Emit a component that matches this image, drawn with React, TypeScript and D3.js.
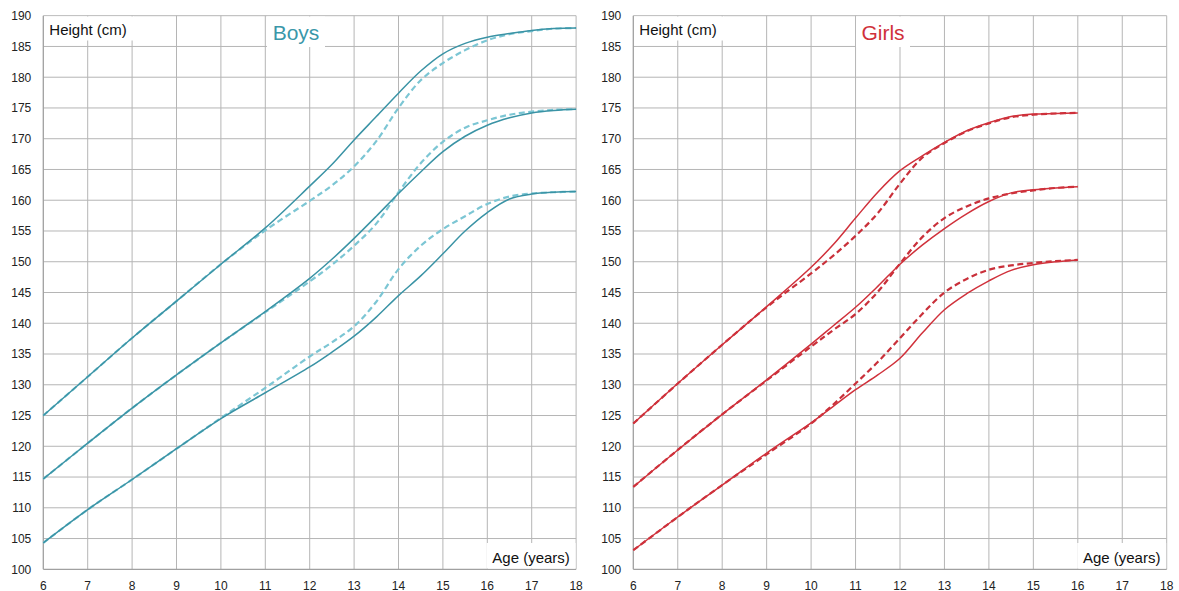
import React from "react";
import * as d3 from "d3";

// Ages sampled for each chart
const boyAges = [6, 7, 8, 9, 10, 11, 12, 12.5, 13, 13.5, 14, 14.5, 15, 15.5, 16, 16.5, 17, 17.5, 18];
const girlAges = [6, 7, 8, 9, 10, 10.5, 11, 11.5, 12, 12.5, 13, 13.5, 14, 14.5, 15, 15.5, 16];

// Boys – solid (reference) and dashed (comparison) curves, upper / middle / lower
const boysUpperSolid = [125.0, 131.3, 137.6, 143.6, 149.6, 155.5, 162.3, 165.8, 169.8, 173.6, 177.4, 181.0, 183.8, 185.5, 186.5, 187.1, 187.6, 187.9, 188.0];
const boysUpperDashed = [125.0, 131.3, 137.6, 143.6, 149.6, 155.1, 159.9, 162.4, 165.5, 169.6, 175.0, 179.5, 182.3, 184.4, 186.0, 187.0, 187.5, 187.9, 188.0];
const boysMiddleSolid = [114.7, 120.5, 126.2, 131.6, 136.8, 141.9, 147.3, 150.4, 153.8, 157.4, 161.1, 164.6, 167.9, 170.4, 172.2, 173.4, 174.2, 174.6, 174.8];
const boysMiddleDashed = [114.7, 120.5, 126.2, 131.6, 136.8, 141.8, 146.8, 149.5, 152.6, 156.2, 161.3, 166.0, 169.5, 171.8, 173.0, 173.9, 174.4, 174.7, 174.8];
const boysLowerSolid = [104.3, 109.7, 114.6, 119.6, 124.5, 128.7, 132.9, 135.3, 137.9, 141.0, 144.5, 147.7, 151.3, 155.0, 158.0, 160.2, 161.0, 161.3, 161.4];
const boysLowerDashed = [104.3, 109.7, 114.6, 119.6, 124.6, 129.5, 134.6, 136.9, 139.5, 143.5, 148.8, 152.6, 155.3, 157.4, 159.4, 160.6, 161.1, 161.3, 161.4];

// Girls – solid and dashed curves
const girlsUpperSolid = [123.7, 130.2, 136.5, 142.7, 149.1, 152.8, 157.1, 161.3, 164.8, 167.2, 169.4, 171.3, 172.6, 173.6, 174.0, 174.1, 174.2];
const girlsUpperDashed = [123.7, 130.2, 136.5, 142.6, 148.1, 151.0, 154.2, 157.9, 162.7, 166.9, 169.3, 171.2, 172.5, 173.5, 173.9, 174.1, 174.2];
const girlsMiddleSolid = [113.4, 119.4, 125.2, 130.8, 136.6, 139.6, 142.6, 146.0, 149.6, 152.7, 155.4, 157.8, 159.8, 161.2, 161.7, 162.0, 162.2];
const girlsMiddleDashed = [113.4, 119.4, 125.2, 130.7, 136.2, 138.9, 141.5, 145.1, 149.7, 154.0, 157.1, 159.0, 160.3, 161.1, 161.6, 162.0, 162.2];
const girlsLowerSolid = [103.1, 108.5, 113.7, 118.9, 123.8, 126.5, 129.2, 131.6, 134.3, 138.4, 142.2, 144.8, 146.9, 148.6, 149.5, 150.0, 150.3];
const girlsLowerDashed = [103.1, 108.5, 113.7, 118.7, 123.7, 126.8, 130.2, 133.7, 137.6, 141.5, 145.0, 147.2, 148.7, 149.4, 149.8, 150.1, 150.3];

// Axis ticks
const ageTicks = [6, 7, 8, 9, 10, 11, 12, 13, 14, 15, 16, 17, 18];
const heightTicks = [100, 105, 110, 115, 120, 125, 130, 135, 140, 145, 150, 155, 160, 165, 170, 175, 180, 185, 190];

const FONT = "'Liberation Sans', Arial, sans-serif";
const GRID = "#b5b5b5";
const AXIS = "#a0a0a0";

type PanelProps = {
  x0: number;
  x1: number;
  title: string;
  titleColor: string;
  titleBox: [number, number];
  ages: number[];
  solids: number[][];
  dashes: number[][];
  solidColor: string;
  dashColor: string;
  dashWidth: number;
};

const Y_TOP = 15.7;
const Y_BOTTOM = 569.3;

function Panel(p: PanelProps) {
  const x = d3.scaleLinear().domain([6, 18]).range([p.x0, p.x1]);
  const y = d3.scaleLinear().domain([100, 190]).range([Y_BOTTOM, Y_TOP]);
  const line = (vals: number[]) =>
    d3
      .line<number>()
      .x((_, i) => x(p.ages[i]))
      .y((v) => y(v))
      .curve(d3.curveCatmullRom.alpha(0.5))(vals) || "";

  return (
    <g>
      {/* grid */}
      {heightTicks.slice(1).map((h) => (
        <line key={"h" + h} x1={p.x0} x2={p.x1} y1={y(h)} y2={y(h)} stroke={GRID} strokeWidth={1} />
      ))}
      {ageTicks.slice(1).map((a) => (
        <line key={"v" + a} x1={x(a)} x2={x(a)} y1={Y_TOP} y2={Y_BOTTOM} stroke={GRID} strokeWidth={1} />
      ))}
      {/* axes */}
      <line x1={p.x0} x2={p.x1} y1={Y_BOTTOM} y2={Y_BOTTOM} stroke={AXIS} strokeWidth={1.3} />
      <line x1={p.x0} x2={p.x0} y1={Y_TOP} y2={Y_BOTTOM} stroke={AXIS} strokeWidth={1.3} />

      {/* tick labels */}
      {heightTicks.map((h) => (
        <text key={"yl" + h} x={p.x0 - 12} y={y(h) + 4.3} textAnchor="end" fontFamily={FONT} fontSize={12} fill="#222">
          {h}
        </text>
      ))}
      {ageTicks.map((a) => (
        <text key={"xl" + a} x={x(a)} y={589.5} textAnchor="middle" fontFamily={FONT} fontSize={12} fill="#222">
          {a}
        </text>
      ))}

      {/* curves */}
      {p.dashes.map((vals, i) => (
        <path key={"d" + i} d={line(vals)} fill="none" stroke={p.dashColor} strokeWidth={p.dashWidth} strokeDasharray="6,3.5" />
      ))}
      {p.solids.map((vals, i) => (
        <path key={"s" + i} d={line(vals)} fill="none" stroke={p.solidColor} strokeWidth={1.5} />
      ))}

      {/* labels on white boxes */}
      <rect x={p.x0 + 0.8} y={Y_TOP + 0.8} width={90} height={24} fill="#fff" />
      <text x={p.x0 + 6} y={34.5} fontFamily={FONT} fontSize={15} fill="#111">
        Height (cm)
      </text>
      <rect x={p.titleBox[0]} y={Y_TOP + 0.8} width={p.titleBox[1] - p.titleBox[0]} height={30.5} fill="#fff" />
      <text x={(p.titleBox[0] + p.titleBox[1]) / 2} y={40} textAnchor="middle" fontFamily={FONT} fontSize={21} fill={p.titleColor}>
        {p.title}
      </text>
      <rect x={p.x1 - 89.5} y={543} width={89} height={Y_BOTTOM - 543 - 0.8} fill="#fff" />
      <text x={p.x1 - 45} y={563.3} textAnchor="middle" fontFamily={FONT} fontSize={15} fill="#111">
        Age (years)
      </text>
    </g>
  );
}

export default function App() {
  return (
    <svg
      width={1179}
      height={591}
      viewBox="0 0 1179 591"
      style={{ position: "absolute", left: 0, top: 0, background: "#fff" }}
    >
      <rect width={1179} height={591} fill="#fff" />
      <Panel
        x0={43.3}
        x1={576.1}
        title="Boys"
        titleColor="#3a97a9"
        titleBox={[267, 325]}
        ages={boyAges}
        solids={[boysUpperSolid, boysMiddleSolid, boysLowerSolid]}
        dashes={[boysUpperDashed, boysMiddleDashed, boysLowerDashed]}
        solidColor="#3a93a5"
        dashColor="#7cc6d4"
        dashWidth={2.2}
      />
      <Panel
        x0={633.3}
        x1={1166.7}
        title="Girls"
        titleColor="#d0313b"
        titleBox={[856, 910]}
        ages={girlAges}
        solids={[girlsUpperSolid, girlsMiddleSolid, girlsLowerSolid]}
        dashes={[girlsUpperDashed, girlsMiddleDashed, girlsLowerDashed]}
        solidColor="#d0313b"
        dashColor="#c9303a"
        dashWidth={2.2}
      />
    </svg>
  );
}
